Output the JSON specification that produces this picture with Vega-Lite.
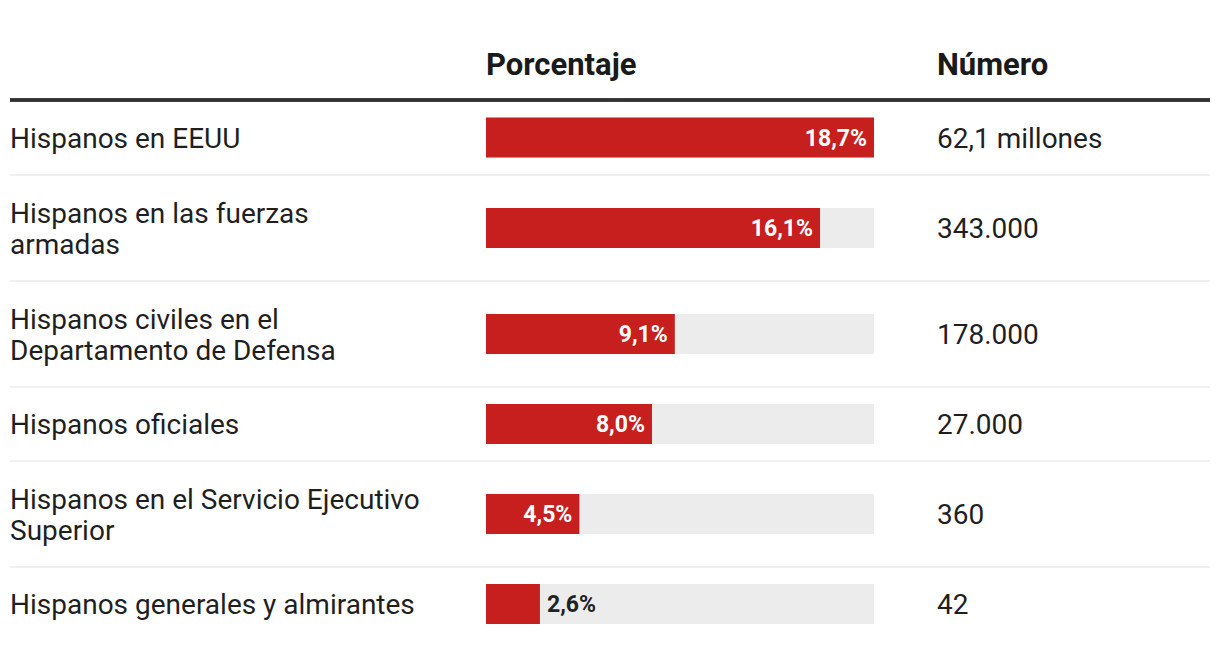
{
  "$schema": "https://vega.github.io/schema/vega-lite/v6.json",
  "padding": {"left": 8, "right": 12, "top": 0, "bottom": 0},
  "background": "white",
  "spacing": 0,
  "bounds": "flush",
  "config": {
    "view": {"stroke": null},
    "font": "Roboto",
    "text": {"font": "Roboto"},
    "locale": {"number": {"decimal": ",", "thousands": ".", "grouping": [3], "currency": ["", " €"]}}
  },
  "datasets": {
    "columnas": [{"columna": "Porcentaje"}, {"columna": "Número"}],
    "filas": [
      {"orden": 1, "grupo": "Hispanos en EEUU", "pct": 0.187, "numero": "62,1 millones"},
      {"orden": 2, "grupo": "Hispanos en las fuerzas\narmadas", "pct": 0.161, "numero": "343.000"},
      {"orden": 3, "grupo": "Hispanos civiles en el\nDepartamento de Defensa", "pct": 0.091, "numero": "178.000"},
      {"orden": 4, "grupo": "Hispanos oficiales", "pct": 0.080, "numero": "27.000"},
      {"orden": 5, "grupo": "Hispanos en el Servicio Ejecutivo\nSuperior", "pct": 0.045, "numero": "360"},
      {"orden": 6, "grupo": "Hispanos generales y almirantes", "pct": 0.026, "numero": "42"}
    ]
  },
  "vconcat": [
    {
      "width": 1200, "height": 100,
      "data": {"name": "columnas"},
      "layer": [
        {"mark": {"type": "text", "align": "left", "baseline": "alphabetic", "fontSize": 31, "fontWeight": "bold", "color": "#1a1a1a"},
         "encoding": {"x": {"field": "columna", "type": "nominal", "axis": null, "scale": {"domain": ["Porcentaje", "Número"], "range": [476, 927], "padding": 0}},
                      "y": {"value": 75}, "text": {"field": "columna"}}},
        {"mark": {"type": "rule", "color": "#333333", "strokeWidth": 3.5}, "encoding": {"y": {"value": 100}}}
      ]
    },
    {
      "width": 1200, "height": 75,
      "data": {"name": "filas"},
      "transform": [{"filter": "datum.orden == 1"}],
      "encoding": {"y": {"field": "grupo", "type": "nominal", "axis": null, "scale": {"paddingInner": 0, "paddingOuter": 0}}},
      "layer": [
        {"mark": {"type": "rule", "color": "#ebebeb", "strokeWidth": 1.7}, "encoding": {"y": {"field": "grupo", "type": "nominal", "bandPosition": 1, "axis": null}}},
        {"mark": {"type": "text", "align": "left", "baseline": "middle", "fontSize": 28, "lineHeight": 31, "lineBreak": "\n", "dy": 2, "color": "#1f1f1f"}, "encoding": {"x": {"value": 0}, "text": {"field": "grupo"}}},
        {"mark": {"type": "text", "align": "left", "baseline": "middle", "fontSize": 28, "dy": 2, "color": "#1f1f1f"}, "encoding": {"x": {"value": 927}, "text": {"field": "numero"}}},
        {"mark": {"type": "bar", "height": 40, "color": "#ececec"}, "encoding": {"x": {"datum": 0, "type": "quantitative", "axis": null, "scale": {"domain": [0, 0.187], "range": [476, 864], "nice": false, "zero": true}}, "x2": {"datum": 0.187}}},
        {"mark": {"type": "bar", "height": 40, "color": "#c71e1e"}, "encoding": {"x": {"field": "pct", "type": "quantitative"}}},
        {"transform": [{"filter": "datum.pct >= 0.04"}], "mark": {"type": "text", "align": "right", "baseline": "middle", "dx": -7, "dy": 1, "fontSize": 23, "fontWeight": "bold", "color": "white"}, "encoding": {"x": {"field": "pct", "type": "quantitative"}, "text": {"field": "pct", "type": "quantitative", "format": ".1%"}}},
        {"transform": [{"filter": "datum.pct < 0.04"}], "mark": {"type": "text", "align": "left", "baseline": "middle", "dx": 7, "dy": 1, "fontSize": 23, "fontWeight": "bold", "color": "#222222"}, "encoding": {"x": {"field": "pct", "type": "quantitative"}, "text": {"field": "pct", "type": "quantitative", "format": ".1%"}}}
      ]
    },
    {
      "width": 1200, "height": 106,
      "data": {"name": "filas"},
      "transform": [{"filter": "datum.orden == 2"}],
      "encoding": {"y": {"field": "grupo", "type": "nominal", "axis": null, "scale": {"paddingInner": 0, "paddingOuter": 0}}},
      "layer": [
        {"mark": {"type": "rule", "color": "#ebebeb", "strokeWidth": 1.7}, "encoding": {"y": {"field": "grupo", "type": "nominal", "bandPosition": 1, "axis": null}}},
        {"mark": {"type": "text", "align": "left", "baseline": "middle", "fontSize": 28, "lineHeight": 31, "lineBreak": "\n", "dy": -13.5, "color": "#1f1f1f"}, "encoding": {"x": {"value": 0}, "text": {"field": "grupo"}}},
        {"mark": {"type": "text", "align": "left", "baseline": "middle", "fontSize": 28, "dy": 2, "color": "#1f1f1f"}, "encoding": {"x": {"value": 927}, "text": {"field": "numero"}}},
        {"mark": {"type": "bar", "height": 40, "color": "#ececec"}, "encoding": {"x": {"datum": 0, "type": "quantitative", "axis": null, "scale": {"domain": [0, 0.187], "range": [476, 864], "nice": false, "zero": true}}, "x2": {"datum": 0.187}}},
        {"mark": {"type": "bar", "height": 40, "color": "#c71e1e"}, "encoding": {"x": {"field": "pct", "type": "quantitative"}}},
        {"transform": [{"filter": "datum.pct >= 0.04"}], "mark": {"type": "text", "align": "right", "baseline": "middle", "dx": -7, "dy": 1, "fontSize": 23, "fontWeight": "bold", "color": "white"}, "encoding": {"x": {"field": "pct", "type": "quantitative"}, "text": {"field": "pct", "type": "quantitative", "format": ".1%"}}},
        {"transform": [{"filter": "datum.pct < 0.04"}], "mark": {"type": "text", "align": "left", "baseline": "middle", "dx": 7, "dy": 1, "fontSize": 23, "fontWeight": "bold", "color": "#222222"}, "encoding": {"x": {"field": "pct", "type": "quantitative"}, "text": {"field": "pct", "type": "quantitative", "format": ".1%"}}}
      ]
    },
    {
      "width": 1200, "height": 106,
      "data": {"name": "filas"},
      "transform": [{"filter": "datum.orden == 3"}],
      "encoding": {"y": {"field": "grupo", "type": "nominal", "axis": null, "scale": {"paddingInner": 0, "paddingOuter": 0}}},
      "layer": [
        {"mark": {"type": "rule", "color": "#ebebeb", "strokeWidth": 1.7}, "encoding": {"y": {"field": "grupo", "type": "nominal", "bandPosition": 1, "axis": null}}},
        {"mark": {"type": "text", "align": "left", "baseline": "middle", "fontSize": 28, "lineHeight": 31, "lineBreak": "\n", "dy": -13.5, "color": "#1f1f1f"}, "encoding": {"x": {"value": 0}, "text": {"field": "grupo"}}},
        {"mark": {"type": "text", "align": "left", "baseline": "middle", "fontSize": 28, "dy": 2, "color": "#1f1f1f"}, "encoding": {"x": {"value": 927}, "text": {"field": "numero"}}},
        {"mark": {"type": "bar", "height": 40, "color": "#ececec"}, "encoding": {"x": {"datum": 0, "type": "quantitative", "axis": null, "scale": {"domain": [0, 0.187], "range": [476, 864], "nice": false, "zero": true}}, "x2": {"datum": 0.187}}},
        {"mark": {"type": "bar", "height": 40, "color": "#c71e1e"}, "encoding": {"x": {"field": "pct", "type": "quantitative"}}},
        {"transform": [{"filter": "datum.pct >= 0.04"}], "mark": {"type": "text", "align": "right", "baseline": "middle", "dx": -7, "dy": 1, "fontSize": 23, "fontWeight": "bold", "color": "white"}, "encoding": {"x": {"field": "pct", "type": "quantitative"}, "text": {"field": "pct", "type": "quantitative", "format": ".1%"}}},
        {"transform": [{"filter": "datum.pct < 0.04"}], "mark": {"type": "text", "align": "left", "baseline": "middle", "dx": 7, "dy": 1, "fontSize": 23, "fontWeight": "bold", "color": "#222222"}, "encoding": {"x": {"field": "pct", "type": "quantitative"}, "text": {"field": "pct", "type": "quantitative", "format": ".1%"}}}
      ]
    },
    {
      "width": 1200, "height": 74,
      "data": {"name": "filas"},
      "transform": [{"filter": "datum.orden == 4"}],
      "encoding": {"y": {"field": "grupo", "type": "nominal", "axis": null, "scale": {"paddingInner": 0, "paddingOuter": 0}}},
      "layer": [
        {"mark": {"type": "rule", "color": "#ebebeb", "strokeWidth": 1.7}, "encoding": {"y": {"field": "grupo", "type": "nominal", "bandPosition": 1, "axis": null}}},
        {"mark": {"type": "text", "align": "left", "baseline": "middle", "fontSize": 28, "lineHeight": 31, "lineBreak": "\n", "dy": 2, "color": "#1f1f1f"}, "encoding": {"x": {"value": 0}, "text": {"field": "grupo"}}},
        {"mark": {"type": "text", "align": "left", "baseline": "middle", "fontSize": 28, "dy": 2, "color": "#1f1f1f"}, "encoding": {"x": {"value": 927}, "text": {"field": "numero"}}},
        {"mark": {"type": "bar", "height": 40, "color": "#ececec"}, "encoding": {"x": {"datum": 0, "type": "quantitative", "axis": null, "scale": {"domain": [0, 0.187], "range": [476, 864], "nice": false, "zero": true}}, "x2": {"datum": 0.187}}},
        {"mark": {"type": "bar", "height": 40, "color": "#c71e1e"}, "encoding": {"x": {"field": "pct", "type": "quantitative"}}},
        {"transform": [{"filter": "datum.pct >= 0.04"}], "mark": {"type": "text", "align": "right", "baseline": "middle", "dx": -7, "dy": 1, "fontSize": 23, "fontWeight": "bold", "color": "white"}, "encoding": {"x": {"field": "pct", "type": "quantitative"}, "text": {"field": "pct", "type": "quantitative", "format": ".1%"}}},
        {"transform": [{"filter": "datum.pct < 0.04"}], "mark": {"type": "text", "align": "left", "baseline": "middle", "dx": 7, "dy": 1, "fontSize": 23, "fontWeight": "bold", "color": "#222222"}, "encoding": {"x": {"field": "pct", "type": "quantitative"}, "text": {"field": "pct", "type": "quantitative", "format": ".1%"}}}
      ]
    },
    {
      "width": 1200, "height": 106,
      "data": {"name": "filas"},
      "transform": [{"filter": "datum.orden == 5"}],
      "encoding": {"y": {"field": "grupo", "type": "nominal", "axis": null, "scale": {"paddingInner": 0, "paddingOuter": 0}}},
      "layer": [
        {"mark": {"type": "rule", "color": "#ebebeb", "strokeWidth": 1.7}, "encoding": {"y": {"field": "grupo", "type": "nominal", "bandPosition": 1, "axis": null}}},
        {"mark": {"type": "text", "align": "left", "baseline": "middle", "fontSize": 28, "lineHeight": 31, "lineBreak": "\n", "dy": -13.5, "color": "#1f1f1f"}, "encoding": {"x": {"value": 0}, "text": {"field": "grupo"}}},
        {"mark": {"type": "text", "align": "left", "baseline": "middle", "fontSize": 28, "dy": 2, "color": "#1f1f1f"}, "encoding": {"x": {"value": 927}, "text": {"field": "numero"}}},
        {"mark": {"type": "bar", "height": 40, "color": "#ececec"}, "encoding": {"x": {"datum": 0, "type": "quantitative", "axis": null, "scale": {"domain": [0, 0.187], "range": [476, 864], "nice": false, "zero": true}}, "x2": {"datum": 0.187}}},
        {"mark": {"type": "bar", "height": 40, "color": "#c71e1e"}, "encoding": {"x": {"field": "pct", "type": "quantitative"}}},
        {"transform": [{"filter": "datum.pct >= 0.04"}], "mark": {"type": "text", "align": "right", "baseline": "middle", "dx": -7, "dy": 1, "fontSize": 23, "fontWeight": "bold", "color": "white"}, "encoding": {"x": {"field": "pct", "type": "quantitative"}, "text": {"field": "pct", "type": "quantitative", "format": ".1%"}}},
        {"transform": [{"filter": "datum.pct < 0.04"}], "mark": {"type": "text", "align": "left", "baseline": "middle", "dx": 7, "dy": 1, "fontSize": 23, "fontWeight": "bold", "color": "#222222"}, "encoding": {"x": {"field": "pct", "type": "quantitative"}, "text": {"field": "pct", "type": "quantitative", "format": ".1%"}}}
      ]
    },
    {
      "width": 1200, "height": 74,
      "data": {"name": "filas"},
      "transform": [{"filter": "datum.orden == 6"}],
      "encoding": {"y": {"field": "grupo", "type": "nominal", "axis": null, "scale": {"paddingInner": 0, "paddingOuter": 0}}},
      "layer": [
        {"mark": {"type": "text", "align": "left", "baseline": "middle", "fontSize": 28, "lineHeight": 31, "lineBreak": "\n", "dy": 2, "color": "#1f1f1f"}, "encoding": {"x": {"value": 0}, "text": {"field": "grupo"}}},
        {"mark": {"type": "text", "align": "left", "baseline": "middle", "fontSize": 28, "dy": 2, "color": "#1f1f1f"}, "encoding": {"x": {"value": 927}, "text": {"field": "numero"}}},
        {"mark": {"type": "bar", "height": 40, "color": "#ececec"}, "encoding": {"x": {"datum": 0, "type": "quantitative", "axis": null, "scale": {"domain": [0, 0.187], "range": [476, 864], "nice": false, "zero": true}}, "x2": {"datum": 0.187}}},
        {"mark": {"type": "bar", "height": 40, "color": "#c71e1e"}, "encoding": {"x": {"field": "pct", "type": "quantitative"}}},
        {"transform": [{"filter": "datum.pct >= 0.04"}], "mark": {"type": "text", "align": "right", "baseline": "middle", "dx": -7, "dy": 1, "fontSize": 23, "fontWeight": "bold", "color": "white"}, "encoding": {"x": {"field": "pct", "type": "quantitative"}, "text": {"field": "pct", "type": "quantitative", "format": ".1%"}}},
        {"transform": [{"filter": "datum.pct < 0.04"}], "mark": {"type": "text", "align": "left", "baseline": "middle", "dx": 7, "dy": 1, "fontSize": 23, "fontWeight": "bold", "color": "#222222"}, "encoding": {"x": {"field": "pct", "type": "quantitative"}, "text": {"field": "pct", "type": "quantitative", "format": ".1%"}}}
      ]
    }
  ]
}
